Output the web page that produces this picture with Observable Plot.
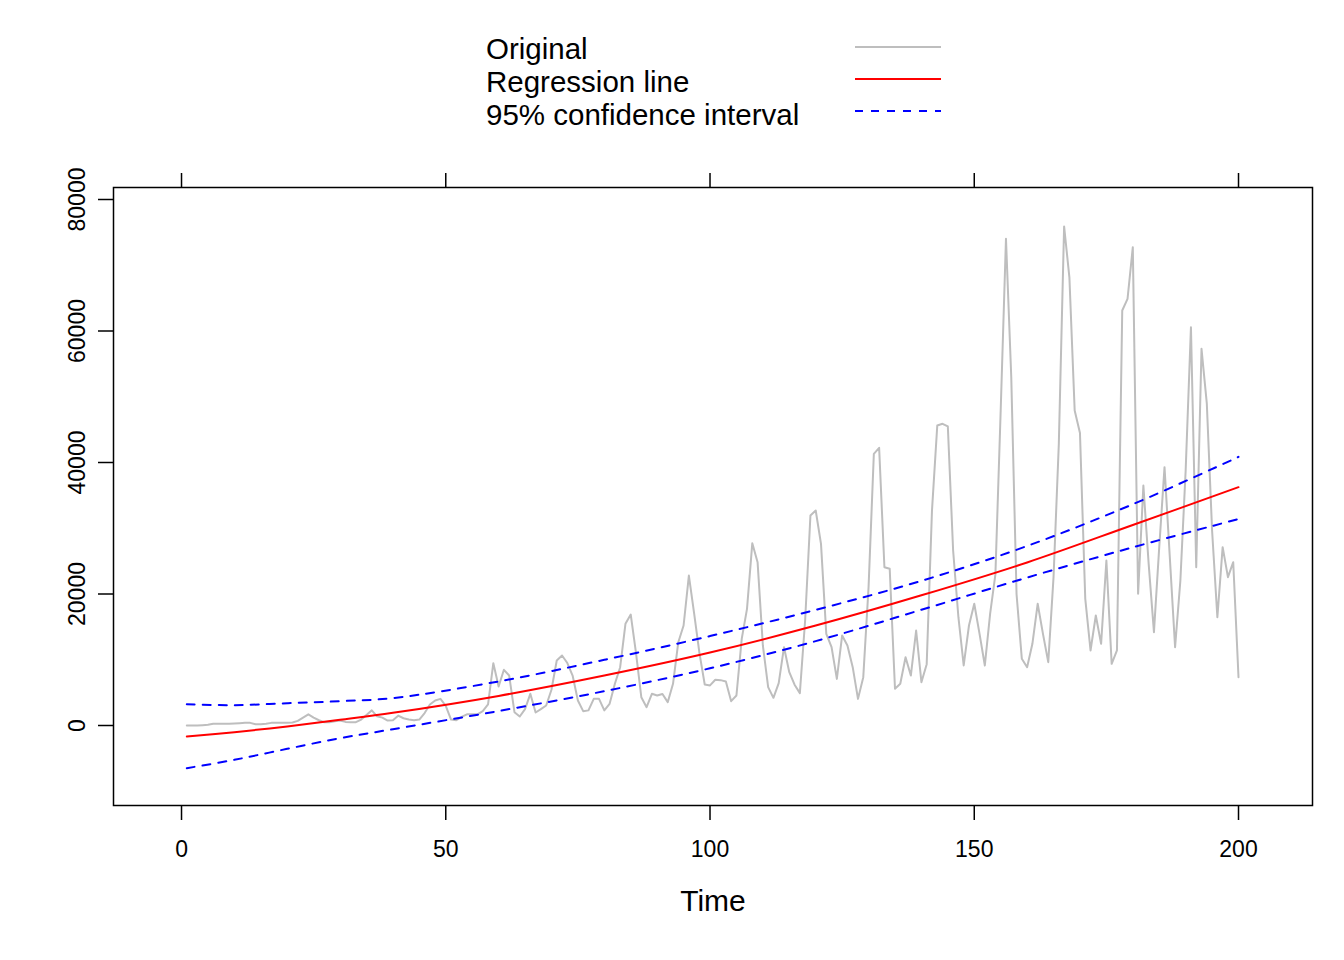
<!DOCTYPE html>
<html>
<head>
<meta charset="utf-8">
<script src="https://cdn.jsdelivr.net/npm/d3@7"></script>
<script src="https://cdn.jsdelivr.net/npm/@observablehq/plot@0.6"></script>
<style>
  html, body { margin: 0; padding: 0; background: #fff; }
  #wrap { position: relative; width: 1344px; font-family: "Liberation Sans", Arial, sans-serif; }
  #legend { position: relative; width: 1344px; height: 150px; }
  .lt { position: absolute; left: 486px; font-size: 29.5px; line-height: 33px; color: #000; white-space: nowrap; }
  .ll { position: absolute; left: 855px; width: 86px; height: 2px; }
</style>
</head>
<body>
<div id="wrap">
  <div id="legend"></div>
  <div id="chart"></div>
</div>
<script>
// Original series (t = 1..200)
const original = [
  0, 0, 0, 50, 100, 250, 250, 250, 250, 300, 350, 400,
  400, 200, 200, 250, 400, 400, 400, 400, 450, 700, 1200, 1700,
  1200, 800, 500, 500, 650, 750, 550, 500, 500, 900, 1600, 2300,
  1400, 1200, 750, 800, 1500, 1100, 900, 800, 900, 1900, 3200, 3800,
  4050, 3000, 900, 800, 1300, 1700, 1700, 1700, 2200, 3200, 9480, 5930,
  8470, 7600, 2030, 1370, 2500, 4820, 1980, 2500, 3040, 5430, 9890, 10650,
  9500, 7600, 3800, 2180, 2300, 4050, 4050, 2300, 3300, 6340, 8870, 15470,
  16880, 11000, 4300, 2790, 4820, 4560, 4800, 3550, 6340, 12670, 15210, 22810,
  17000, 11000, 6240, 6100, 6950, 6900, 6700, 3700, 4560, 13180, 17740, 27730,
  24840, 12170, 5830, 4210, 6440, 11910, 8110, 6200, 4920, 16000, 31940, 32700,
  27630, 13940, 11910, 7090, 13690, 12170, 8870, 4050, 7350, 21040, 41320, 42230,
  24080, 23830, 5580, 6340, 10390, 7600, 14450, 6590, 9330, 32700, 45630, 45890,
  45480, 26620, 16470, 9130, 15210, 18510, 13940, 9130, 16990, 23000, 47910, 74030,
  53000, 20000, 10140, 8870, 12420, 18510, 13940, 9630, 22560, 42850, 75900, 68170,
  47900, 44500, 19300, 11410, 16730, 12420, 25100, 9380, 11410, 63120, 64890, 72750,
  20030, 36500, 24590, 14200, 27120, 39290, 25600, 11910, 22050, 38780, 60580, 24080,
  57290, 49000, 29660, 16470, 27120, 22560, 24840, 7350
];
const time = original.map((_, i) => i + 1);

// Regression line and 95% confidence interval, read at these times
const fitTime  = [1, 10, 20, 30, 40, 60, 80, 100, 120, 140, 160, 180, 200];
const fitValue = [-1670, -1010, -150, 860, 1930, 4500, 7600, 11100, 15200, 19800, 24800, 30500, 36250];
const ciUpper  = [3240, 3090, 3390, 3700, 4170, 6700, 9990, 13600, 17590, 22000, 27300, 33650, 40850];
const ciLower  = [-6490, -5220, -3550, -1930, -560, 2200, 5220, 8700, 12830, 17600, 22500, 27100, 31400];

const xTicks = [0, 50, 100, 150, 200];
const yTicks = [0, 20000, 40000, 60000, 80000];

const legendItems = ["Original", "Regression line", "95% confidence interval"];
const legendColors = ["#BEBEBE", "#FF0000", "#0000FF"];

// Legend (HTML, above the SVG)
const legend = document.getElementById("legend");
const textTops = [32, 65, 98];
const lineCenters = [47, 78.5, 111];
legendItems.forEach((name, i) => {
  const t = document.createElement("div");
  t.className = "lt";
  t.style.top = textTops[i] + "px";
  t.textContent = name;
  legend.appendChild(t);
  const l = document.createElement("div");
  l.className = "ll";
  l.style.top = (lineCenters[i] - 1) + "px";
  if (i === 2) {
    l.style.background = `repeating-linear-gradient(to right, ${legendColors[i]} 0 8px, transparent 8px 16px)`;
  } else {
    l.style.background = legendColors[i];
  }
  legend.appendChild(l);
});

const fitRows = fitTime.map((t, i) => ({t, fit: fitValue[i], up: ciUpper[i], lo: ciLower[i]}));

const chart = Plot.plot({
  width: 1344,
  height: 810,
  marginTop: 37,
  marginBottom: 155,
  marginLeft: 113,
  marginRight: 32,
  style: {fontFamily: "Liberation Sans, Arial, sans-serif", fontSize: "23px", background: "#fff", color: "#000"},
  x: {domain: [-12.87, 214.0], label: null},
  y: {domain: [-12167, 81825], label: null},
  marks: [
    Plot.lineY(original, {x: time, y: d => d, stroke: legendColors[0], strokeWidth: 2}),
    Plot.line(fitRows, {x: "t", y: "up", stroke: legendColors[2], strokeWidth: 2, strokeDasharray: "8,8", curve: "catmull-rom"}),
    Plot.line(fitRows, {x: "t", y: "lo", stroke: legendColors[2], strokeWidth: 2, strokeDasharray: "8,8", curve: "catmull-rom"}),
    Plot.line(fitRows, {x: "t", y: "fit", stroke: legendColors[1], strokeWidth: 2, curve: "catmull-rom"}),
    Plot.frame({stroke: "#000", strokeWidth: 1.5}),
    Plot.axisX({anchor: "bottom", ticks: xTicks, label: null, tickSize: 15, tickPadding: 20, strokeWidth: 1.5, fontSize: 23, tickFormat: d => String(d)}),
    Plot.axisX({anchor: "top", ticks: xTicks, label: null, tickSize: 15, strokeWidth: 1.5, tickFormat: () => ""}),
    Plot.axisY({anchor: "left", ticks: yTicks, label: null, tickSize: 15, tickPadding: 14, tickRotate: -90, strokeWidth: 1.5, fontSize: 23, tickFormat: d => String(d)}),
    Plot.text(["Time"], {text: d => d, frameAnchor: "bottom", dy: 96, lineAnchor: "middle", fontSize: 30, fill: "#000"})
  ]
});
document.getElementById("chart").appendChild(chart);
</script>
</body>
</html>
